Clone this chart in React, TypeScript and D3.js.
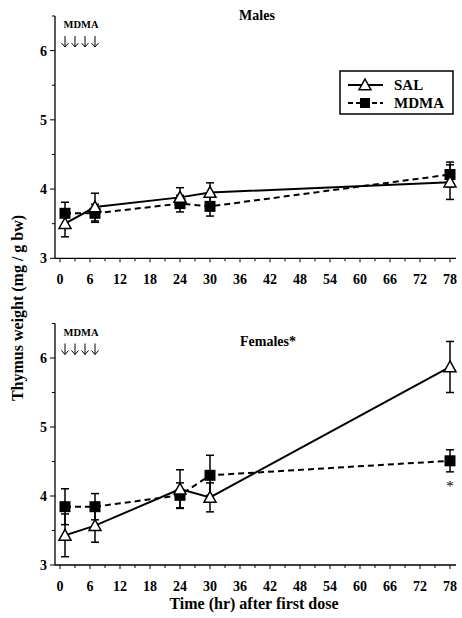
import React from "react";
import * as d3 from "d3";

const hours = [1, 7, 24, 30, 78];
const xTickLabels = [0, 6, 12, 18, 24, 30, 36, 42, 48, 54, 60, 66, 72, 78];
const yTickLabels = [3, 4, 5, 6];
const doseHours = [1, 3, 5, 7];

const maleSal = [3.5, 3.74, 3.88, 3.95, 4.1];
const maleSalErr = [0.19, 0.2, 0.14, 0.14, 0.25];
const maleMdma = [3.65, 3.65, 3.79, 3.75, 4.21];
const maleMdmaErr = [0.16, 0.13, 0.12, 0.14, 0.18];

const femSal = [3.43, 3.57, 4.1, 3.98, 5.87];
const femSalErr = [0.31, 0.24, 0.28, 0.21, 0.37];
const femMdma = [3.845, 3.845, 4.01, 4.3, 4.51];
const femMdmaErr = [0.26, 0.19, 0.18, 0.29, 0.16];

const FONT = "'Liberation Serif', 'Times New Roman', serif";

type PanelProps = {
  top: number;
  bottom: number;
  title: string;
  titleX: number;
  titleY: number;
  sal: number[];
  salErr: number[];
  mdma: number[];
  mdmaErr: number[];
  legend?: boolean;
  star?: boolean;
};

const xScale = d3.scaleLinear().domain([-1, 79.2]).range([55, 456]);

function Panel(p: PanelProps) {
  const y = d3.scaleLinear().domain([3, 6.5]).range([p.bottom, p.top]);
  const line = d3
    .line<number>()
    .x((_, i) => xScale(hours[i]))
    .y((d) => y(d));
  const minorX = d3.range(0, 79, 3);
  const minorY = d3.range(3, 6.51, 0.5);
  const tri = (cx: number, cy: number) => {
    const s = 6;
    return `M${cx},${cy - s}L${cx + s},${cy + s * 0.8}L${cx - s},${cy + s * 0.8}Z`;
  };
  const errBars = (vals: number[], errs: number[]) =>
    vals.map((v, i) => {
      const cx = xScale(hours[i]);
      const y1 = y(v + errs[i]);
      const y2 = y(v - errs[i]);
      return (
        <g key={i} stroke="#000" strokeWidth={1.5}>
          <line x1={cx} x2={cx} y1={y1} y2={y2} />
          <line x1={cx - 4} x2={cx + 4} y1={y1} y2={y1} />
          <line x1={cx - 4} x2={cx + 4} y1={y2} y2={y2} />
        </g>
      );
    });
  return (
    <g>
      <line x1={55} x2={55} y1={p.top} y2={p.bottom} stroke="#000" strokeWidth={1.3} />
      <line x1={55} x2={456} y1={p.bottom} y2={p.bottom} stroke="#000" strokeWidth={1.3} />
      {minorX.map((h) => (
        <line key={"mx" + h} x1={xScale(h)} x2={xScale(h)} y1={p.bottom} y2={p.bottom + (h % 6 === 0 ? 4 : 3)} stroke="#000" strokeWidth={1} />
      ))}
      {minorY.map((v) => (
        <line key={"my" + v} x1={55} x2={55 - (v % 1 === 0 ? 5 : 3)} y1={y(v)} y2={y(v)} stroke="#000" strokeWidth={1} />
      ))}
      {xTickLabels.map((h) => (
        <text key={"xl" + h} x={xScale(h)} y={p.bottom + 26} textAnchor="middle" fontFamily={FONT} fontWeight="bold" fontSize={14}>
          {h}
        </text>
      ))}
      {yTickLabels.map((v) => (
        <text key={"yl" + v} x={47} y={y(v) + 5} textAnchor="end" fontFamily={FONT} fontWeight="bold" fontSize={14}>
          {v}
        </text>
      ))}
      <text x={p.titleX} y={p.titleY} textAnchor="middle" fontFamily={FONT} fontWeight="bold" fontSize={14}>
        {p.title}
      </text>
      <text x={81} y={p.top + 12} textAnchor="middle" fontFamily={FONT} fontWeight="bold" fontSize={10.5}>
        MDMA
      </text>
      {doseHours.map((h) => {
        const cx = xScale(h);
        const y0 = p.top + 20;
        const y1 = p.top + 31;
        return (
          <g key={"ar" + h} stroke="#000" strokeWidth={1} fill="none">
            <line x1={cx} x2={cx} y1={y0} y2={y1} />
            <path d={`M${cx - 3.5},${y1 - 4}L${cx},${y1}L${cx + 3.5},${y1 - 4}`} />
          </g>
        );
      })}
      {errBars(p.mdma, p.mdmaErr)}
      {errBars(p.sal, p.salErr)}
      <path d={line(p.mdma) || ""} fill="none" stroke="#000" strokeWidth={2} strokeDasharray="6,4" />
      <path d={line(p.sal) || ""} fill="none" stroke="#000" strokeWidth={2} />
      {p.mdma.map((v, i) => (
        <rect key={"sq" + i} x={xScale(hours[i]) - 5.5} y={y(v) - 5.5} width={11} height={11} fill="#000" />
      ))}
      {p.sal.map((v, i) => (
        <path key={"tr" + i} d={tri(xScale(hours[i]), y(v))} fill="#fff" stroke="#000" strokeWidth={1.5} />
      ))}
      {p.star && (
        <text x={xScale(78)} y={y(p.mdma[4] - p.mdmaErr[4]) + 19} textAnchor="middle" fontFamily={FONT} fontSize={15}>
          *
        </text>
      )}
      {p.legend && (
        <g>
          <rect x={340} y={71} width={113} height={43} fill="#fff" stroke="#000" strokeWidth={1.5} />
          <line x1={348} x2={383} y1={85} y2={85} stroke="#000" strokeWidth={2} />
          <path d={tri(365, 85)} fill="#fff" stroke="#000" strokeWidth={1.5} />
          <line x1={348} x2={383} y1={103} y2={103} stroke="#000" strokeWidth={2} strokeDasharray="5,3" />
          <rect x={360} y={98} width={10} height={10} fill="#000" />
          <text x={394} y={90} fontFamily={FONT} fontWeight="bold" fontSize={15}>SAL</text>
          <text x={394} y={108} fontFamily={FONT} fontWeight="bold" fontSize={15}>MDMA</text>
        </g>
      )}
    </g>
  );
}

export default function App() {
  return (
    <svg width={462} height={618} style={{ position: "absolute", left: 0, top: 0, background: "#fff" }}>
      <rect x={0} y={0} width={462} height={618} fill="#fff" />
      <Panel
        top={16}
        bottom={258.3}
        title="Males"
        titleX={257}
        titleY={20}
        sal={maleSal}
        salErr={maleSalErr}
        mdma={maleMdma}
        mdmaErr={maleMdmaErr}
        legend
      />
      <Panel
        top={323.5}
        bottom={565}
        title="Females*"
        titleX={268}
        titleY={345.5}
        sal={femSal}
        salErr={femSalErr}
        mdma={femMdma}
        mdmaErr={femMdmaErr}
        star
      />
      <text x={254} y={609} textAnchor="middle" fontFamily={FONT} fontWeight="bold" fontSize={16}>
        Time (hr) after first dose
      </text>
      <text
        transform="translate(23,308) rotate(-90)"
        textAnchor="middle"
        fontFamily={FONT}
        fontWeight="bold"
        fontSize={16}
      >
        Thymus weight (mg / g bw)
      </text>
    </svg>
  );
}
